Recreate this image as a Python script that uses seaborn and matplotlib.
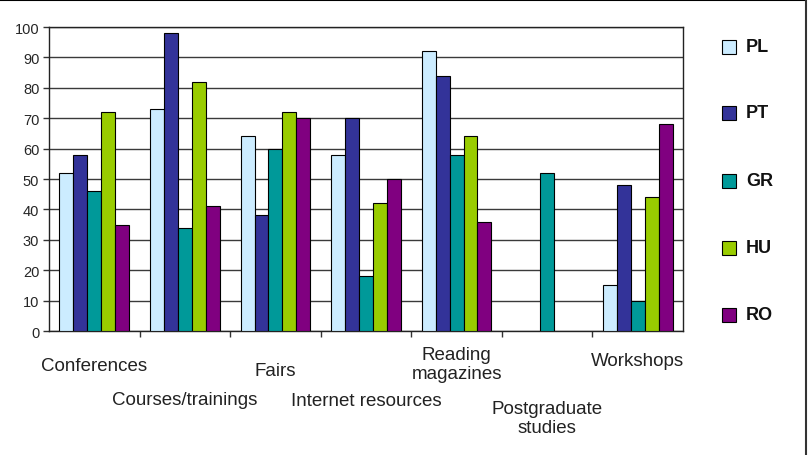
import matplotlib
matplotlib.use("Agg")
import matplotlib.pyplot as plt
import matplotlib.transforms as mtransforms
from matplotlib.lines import Line2D
import numpy as np
import pandas as pd
import seaborn as sns

categories = ["Conferences", "Courses/trainings", "Fairs", "Internet resources",
              "Reading\nmagazines", "Postgraduate\nstudies", "Workshops"]
countries = ["PL", "PT", "GR", "HU", "RO"]
PL = [52, 73, 64, 58, 92, np.nan, 15]
PT = [58, 98, 38, 70, 84, np.nan, 48]
GR = [46, 34, 60, 18, 58, 52, 10]
HU = [72, 82, 72, 42, 64, np.nan, 44]
RO = [35, 41, 70, 50, 36, np.nan, 68]
colors = ["#CCECFF", "#333399", "#009999", "#99CC00", "#800080"]
label_y = [367, 401, 371, 402, 365, 419, 362]  # pixel rows of label centres

rows = []
for c, vals in zip(countries, [PL, PT, GR, HU, RO]):
    for cat, v in zip(categories, vals):
        rows.append({"category": cat, "country": c, "value": v})
df = pd.DataFrame(rows)

sns.set_theme(style="white")
plt.rcParams["font.family"] = ["Liberation Sans", "DejaVu Sans"]

fig = plt.figure(figsize=(8.12, 4.56), dpi=100)
ax = fig.add_axes([49/812, 1-332/456, (683-49)/812, (332-28)/456])

sns.barplot(data=df, x="category", y="value", hue="country", order=categories,
            hue_order=countries, palette=colors, width=0.77, gap=0,
            edgecolor="black", linewidth=0.8, saturation=1, ax=ax, legend=False,
            errorbar=None, zorder=3)

ax.set_ylim(0, 100)
ax.set_xlim(-0.5, len(categories)-0.5)
ax.set_yticks(range(0, 101, 10))
ax.yaxis.grid(True, color="#3a3a3a", linewidth=1, zorder=0)
ax.set_axisbelow(True)
ax.tick_params(axis="y", direction="out", length=4, width=1, color="#333333",
               labelsize=10.5, pad=3, left=True)
ax.set_xticks(np.arange(0.5, len(categories)-0.5, 1))
ax.set_xticklabels([])
ax.tick_params(axis="x", direction="out", length=4, width=1, color="#333333", bottom=True)
ax.set_xlabel("")
ax.set_ylabel("")
for s in ax.spines.values():
    s.set_color("#222222")
    s.set_linewidth(1)

trans = mtransforms.blended_transform_factory(ax.transData, fig.transFigure)
for i, (cat, yp) in enumerate(zip(categories, label_y)):
    ax.text(i, 1-yp/456, cat, transform=trans, ha="center", va="center",
            fontsize=13.5, color="#222222", linespacing=1.2, clip_on=False)

# legend
leg_y = [48, 114, 182, 249, 316]
for c, col, yp in zip(countries, colors, leg_y):
    fig.add_artist(Line2D([729/812], [1-yp/456], marker="s", markersize=9.5,
                          markerfacecolor=col, markeredgecolor="black",
                          markeredgewidth=0.8, linestyle="none"))
    fig.text(746/812, 1-yp/456, c, ha="left", va="center", fontsize=13,
             fontweight="bold", color="#111111")

# outer frame (top and right)
fig.add_artist(Line2D([0, 806/812], [1-1/456, 1-1/456], color="black", lw=1.5))
fig.add_artist(Line2D([806/812, 806/812], [0, 1-1/456], color="#333333", lw=1.5))

fig.savefig("out.png", dpi=100)
